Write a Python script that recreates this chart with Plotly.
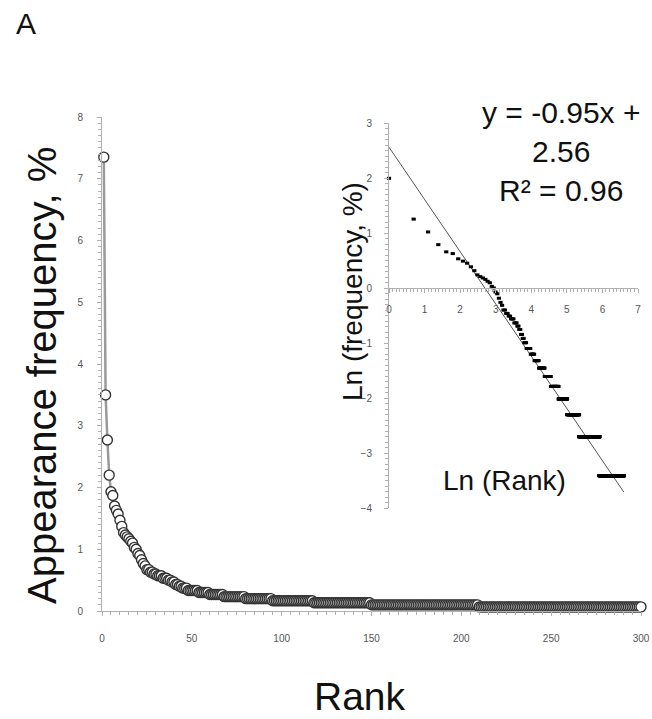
import numpy as np
import plotly.graph_objects as go

# ---- data ----
# appearance frequency (%) of ranks 1..47
top_freq = [7.35, 3.50, 2.77, 2.20, 1.93, 1.87, 1.70, 1.63, 1.57, 1.47,
            1.37, 1.27, 1.23, 1.20, 1.17, 1.13, 1.10, 1.03, 1.00, 0.93,
            0.90, 0.83, 0.77, 0.73, 0.67, 0.67, 0.63, 0.63, 0.60, 0.60,
            0.57, 0.57, 0.57, 0.53, 0.53, 0.53, 0.50, 0.50, 0.47, 0.47,
            0.43, 0.43, 0.40, 0.40, 0.37, 0.37, 0.37]
# tail: plateau levels (%) and how many consecutive ranks sit on each
tail_levels = [0.333, 0.300, 0.267, 0.233, 0.200, 0.167, 0.133, 0.100, 0.067, 0.033]
tail_runs = [6, 6, 8, 12, 15, 23, 32, 60, 161, 365]

fit_slope = -0.95
fit_intercept = 2.56
fit_r2 = 0.96

main_xticks = [0, 50, 100, 150, 200, 250, 300]
main_yticks = [0, 1, 2, 3, 4, 5, 6, 7, 8]
inset_xticks = [0, 1, 2, 3, 4, 5, 6, 7]
inset_yticks = [-4, -3, -2, -1, 0, 1, 2, 3]

# ---- build series ----
freq = list(top_freq)
for lvl, n in zip(tail_levels, tail_runs):
    freq += [lvl] * n
freq = np.array(freq)
rank = np.arange(1, len(freq) + 1)
main_mask = rank <= 300
ln_rank = np.log(rank)
ln_freq = np.log(freq)
fit_x = np.array([0.0, ln_rank.max()])
fit_y = fit_slope * fit_x + fit_intercept

FONT = "Arial, Liberation Sans, sans-serif"
W, H = 652, 719
# target pixel box of the main plot area in the window
X0, X1, Y0, Y1 = 102, 641, 117, 611
L, T = X0, Y0
R, B = W - X1, H - Y1
pw, ph = X1 - X0, Y1 - Y0


def px(x):
    return (x - X0) / pw


def py(y):
    return (Y1 - y) / ph


AX = "#b0b0b0"
fig = go.Figure()

fig.add_trace(go.Scatter(
    x=rank[main_mask], y=freq[main_mask], mode="lines+markers",
    line=dict(color="#9a9a9a", width=2.5),
    marker=dict(symbol="circle", size=10, color="white",
                line=dict(color="#333333", width=1.4)),
    cliponaxis=False, xaxis="x", yaxis="y", showlegend=False))

fig.add_trace(go.Scatter(
    x=fit_x, y=fit_y, mode="lines",
    line=dict(color="#555555", width=1),
    xaxis="x2", yaxis="y2", showlegend=False))

fig.add_trace(go.Scatter(
    x=ln_rank, y=ln_freq, mode="markers",
    marker=dict(symbol="line-ew", size=3, line=dict(color="black", width=3)),
    cliponaxis=False, xaxis="x2", yaxis="y2", showlegend=False))

tickfont = dict(family=FONT, size=10, color="#555555")


def axis_common(minor_dtick):
    return dict(showgrid=False, zeroline=False, showline=True,
                linecolor=AX, linewidth=1, ticks="outside",
                ticklen=4, tickcolor=AX, ticklabeloverflow="allow",
                minor=dict(ticks="outside", ticklen=3, tickcolor=AX, dtick=minor_dtick),
                tickfont=tickfont)


fig.update_layout(
    width=W, height=H, margin=dict(l=L, r=R, t=T, b=B, autoexpand=False),
    paper_bgcolor="white", plot_bgcolor="white",
    xaxis=dict(domain=[0, 1], range=[0, 300], tickvals=main_xticks,
               ticklabelstandoff=14, **axis_common(5)),
    yaxis=dict(domain=[0, 1], range=[0, 8], tickvals=main_yticks,
               ticklabelstandoff=12, **axis_common(0.1)),
    xaxis2=dict(domain=[px(389), px(638)], range=[0, 7], tickvals=inset_xticks,
                anchor="free", position=py(288), ticklabelstandoff=8,
                **axis_common(0.1)),
    yaxis2=dict(domain=[py(508), py(123)], range=[-4, 3], tickvals=inset_yticks,
                anchor="x2", ticklabelstandoff=10, **axis_common(0.1)),
)


def note(text, x, y, size, angle=0):
    return dict(text=text, x=px(x), y=py(y), xref="paper", yref="paper",
                xanchor="center", yanchor="middle", showarrow=False,
                textangle=angle, align="center",
                font=dict(family=FONT, size=size, color="#111111"))


ann = [
    note("A", 26, 24, 30),
    note("Appearance frequency, %", 42, 376, 40, -90),
    note("Rank", 360, 696, 39),
    note("y = %.2fx +<br>%.2f<br>R² = %.2f" % (fit_slope, fit_intercept, fit_r2),
         561, 151, 30),
    note("Ln (Rank)", 504, 480, 28),
    note("Ln (frequency, %)", 352, 292, 28, -90),
]
fig.update_layout(annotations=ann)

fig.write_html("out.html",
               config={"displayModeBar": False, "staticPlot": True},
               post_script="document.body.style.margin='0px';"
                           "document.body.style.overflow='hidden';")
